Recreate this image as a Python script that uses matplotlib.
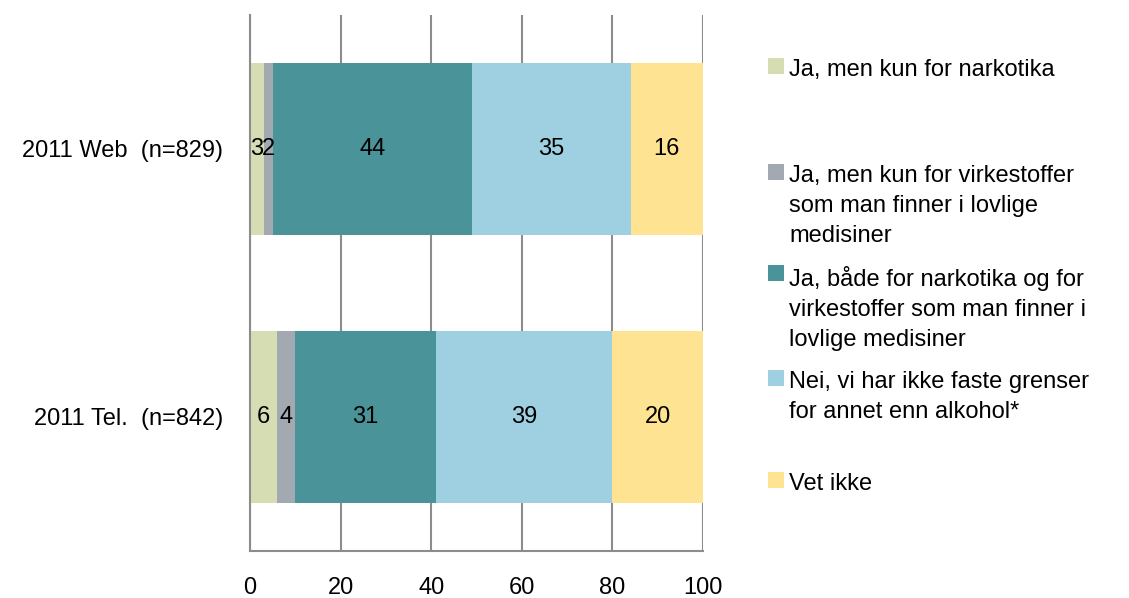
import matplotlib
matplotlib.use("Agg")
import matplotlib.pyplot as plt
from matplotlib.patches import Rectangle

plt.rcParams['font.family'] = ['Liberation Sans', 'DejaVu Sans']

categories = ["2011 Web  (n=829)", "2011 Tel.  (n=842)"]
series_labels = [
    "Ja, men kun for narkotika",
    "Ja, men kun for virkestoffer\nsom man finner i lovlige\nmedisiner",
    "Ja, både for narkotika og for\nvirkestoffer som man finner i\nlovlige medisiner",
    "Nei, vi har ikke faste grenser\nfor annet enn alkohol*",
    "Vet ikke",
]
values = [
    [3, 6],
    [2, 4],
    [44, 31],
    [35, 39],
    [16, 20],
]
colors = ["#D7DDB3", "#A2A9B1", "#4A9399", "#9FD0E2", "#FEE392"]
xticks = [0, 20, 40, 60, 80, 100]

FS = 17
fig = plt.figure(figsize=(11.29, 5.98), dpi=100)
ax = fig.add_axes([250/1129, 1-551/598, 453/1129, 536/598])

ypos = list(range(len(categories)))
left = [0]*len(categories)
for vals, col, lab in zip(values, colors, series_labels):
    bars = ax.barh(ypos, vals, left=left, height=0.64, color=col, label=lab, zorder=2)
    ax.bar_label(bars, labels=[str(v) for v in vals], label_type='center', fontsize=FS, color='black')
    left = [l + v for l, v in zip(left, vals)]

ax.set_xlim(0, 100)
ax.set_ylim(len(categories)-0.5, -0.5)
ax.set_xticks(xticks)
ax.set_xticklabels([str(t) for t in xticks], fontsize=FS)
ax.set_yticks(ypos)
ax.set_yticklabels(categories, fontsize=FS)
ax.tick_params(axis='both', length=0)
ax.tick_params(axis='x', pad=18.5)
ax.tick_params(axis='y', pad=19.5)
ax.grid(axis='x', color='#8C8C8C', linewidth=1.5, zorder=0)
ax.set_axisbelow(True)
for s in ['top', 'right']:
    ax.spines[s].set_visible(False)
for s in ['left', 'bottom']:
    ax.spines[s].set_color('#8C8C8C')
    ax.spines[s].set_linewidth(1.5)

# legend (manual placement to match reference spacing)
first_line_y = [68, 174, 275, 380, 482]
W, H = 1129, 598
for lab, col, y in zip(series_labels, colors, first_line_y):
    sq = 16
    fig.patches.append(Rectangle((768/W, 1-(y-2+sq/2)/H), sq/W, sq/H, transform=fig.transFigure,
                                 facecolor=col, edgecolor='none'))
    fig.text(789/W, 1-(y-9)/H, lab, fontsize=FS, va='top', ha='left', linespacing=1.48)

fig.savefig("out.png", dpi=100)
